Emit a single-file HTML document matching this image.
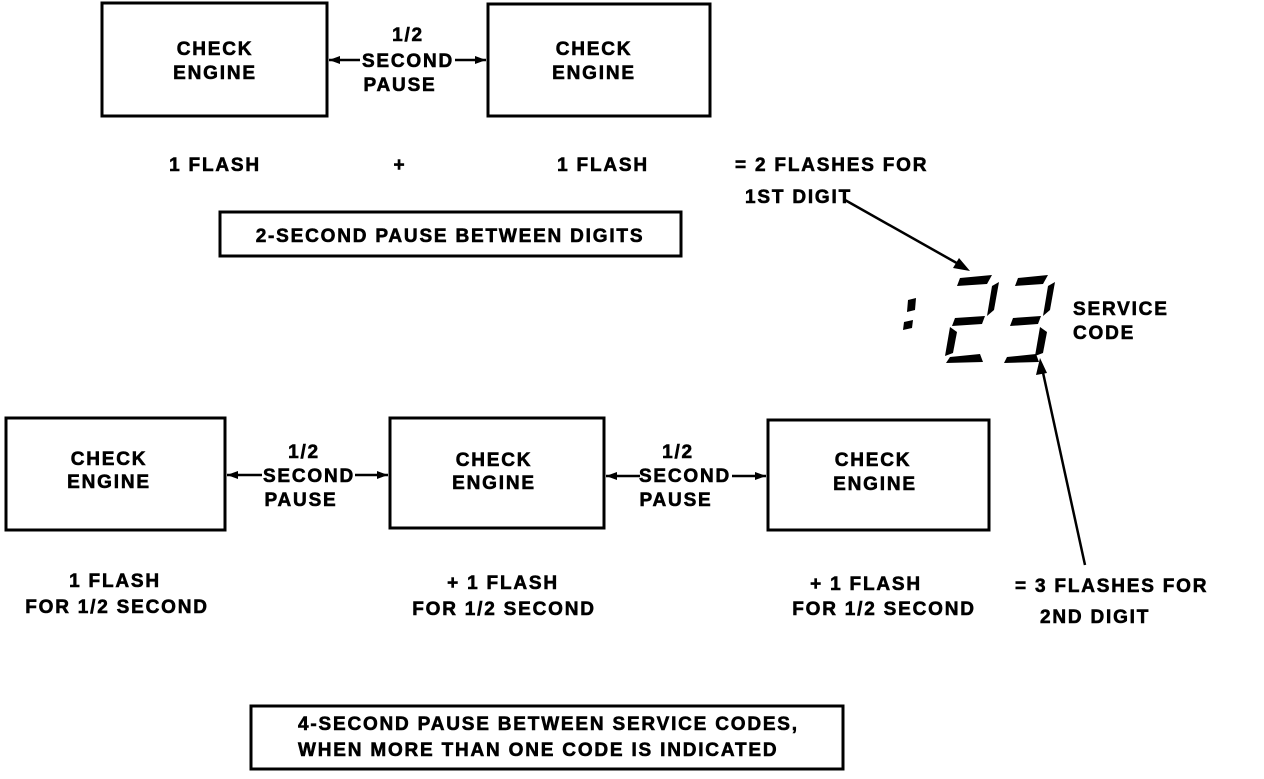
<!DOCTYPE html>
<html><head><meta charset="utf-8"><style>
html,body{margin:0;padding:0;background:#fff;}
svg text{font-family:"Liberation Sans",sans-serif;font-weight:bold;font-size:19px;fill:#000;stroke:#000;stroke-width:0.6px;letter-spacing:1.8px;}
</style></head><body>
<svg width="1264" height="774" viewBox="0 0 1264 774" xmlns="http://www.w3.org/2000/svg">
<g fill="none" stroke="#000" stroke-width="3">
<rect x="102" y="3" width="225" height="113"/>
<rect x="488" y="4" width="222" height="112"/>
<rect x="220" y="212" width="461" height="44"/>
<rect x="6" y="418" width="219" height="112"/>
<rect x="390" y="418" width="214" height="110"/>
<rect x="768" y="420" width="221" height="110"/>
<rect x="251" y="706" width="592" height="63"/>
</g>
<g stroke="#000" stroke-width="2.5">
<line x1="329" y1="60" x2="360" y2="60"/>
<line x1="455" y1="60" x2="486" y2="60"/>
<line x1="227" y1="475" x2="262" y2="475"/>
<line x1="355" y1="475" x2="388" y2="475"/>
<line x1="606" y1="476" x2="640" y2="476"/>
<line x1="732" y1="476" x2="766" y2="476"/>
<line x1="845" y1="200" x2="962" y2="266"/>
<line x1="1085" y1="565" x2="1042" y2="368"/>
</g>
<g fill="#000">
<polygon points="329,60 340,56 340,64"/>
<polygon points="486,60 475,56 475,64"/>
<polygon points="227,475 238,471 238,479"/>
<polygon points="388,475 377,471 377,479"/>
<polygon points="606,476 617,472 617,480"/>
<polygon points="766,476 755,472 755,480"/>
<polygon points="970,271 953,268 959,258"/>
<polygon points="1040,358 1036,375 1047,373"/>
<polygon points="908,300 916,298 915,310 907,312"/>
<polygon points="904,322 913,320 912,328 903,330"/>
<polygon points="960,278 992,275 987,284 957,286"/>
<polygon points="992,286 999,282 994,310 987,316"/>
<polygon points="955,318 985,316 982,324 952,326"/>
<polygon points="950,327 957,332 953,353 945,356"/>
<polygon points="950,357 980,354 983,362 946,363"/>
<polygon points="1018,278 1048,275 1043,284 1015,286"/>
<polygon points="1048,286 1055,282 1050,310 1043,316"/>
<polygon points="1013,318 1041,316 1038,324 1010,326"/>
<polygon points="1040,327 1047,332 1043,353 1035,356"/>
<polygon points="1007,357 1036,354 1039,362 1004,363"/>
</g>
<g text-anchor="middle">
<text x="215" y="55">CHECK</text><text x="215" y="79">ENGINE</text>
<text x="594" y="55">CHECK</text><text x="594" y="79">ENGINE</text>
<text x="408" y="41">1/2</text><text x="408" y="67">SECOND</text><text x="400" y="91">PAUSE</text>
<text x="215" y="171">1 FLASH</text><text x="400" y="171">+</text><text x="603" y="171">1 FLASH</text>
<text x="450" y="242">2-SECOND PAUSE BETWEEN DIGITS</text>
<text x="109" y="465">CHECK</text><text x="109" y="488">ENGINE</text>
<text x="494" y="466">CHECK</text><text x="494" y="489">ENGINE</text>
<text x="873" y="466">CHECK</text><text x="875" y="490">ENGINE</text>
<text x="304" y="458">1/2</text><text x="309" y="482">SECOND</text><text x="301" y="506">PAUSE</text>
<text x="678" y="458">1/2</text><text x="685" y="482">SECOND</text><text x="676" y="506">PAUSE</text>
<text x="115" y="587">1 FLASH</text><text x="117" y="613">FOR 1/2 SECOND</text>
<text x="503" y="589">+ 1 FLASH</text><text x="504" y="615">FOR 1/2 SECOND</text>
<text x="866" y="590">+ 1 FLASH</text><text x="884" y="615">FOR 1/2 SECOND</text>
</g>
<text x="735" y="171">= 2 FLASHES FOR</text>
<text x="745" y="203">1ST DIGIT</text>
<text x="1073" y="315">SERVICE</text><text x="1073" y="339">CODE</text>
<text x="1015" y="592">= 3 FLASHES FOR</text>
<text x="1040" y="623">2ND DIGIT</text>
<text x="298" y="730">4-SECOND PAUSE BETWEEN SERVICE CODES,</text>
<text x="298" y="756">WHEN MORE THAN ONE CODE IS INDICATED</text>
</svg>
</body></html>
